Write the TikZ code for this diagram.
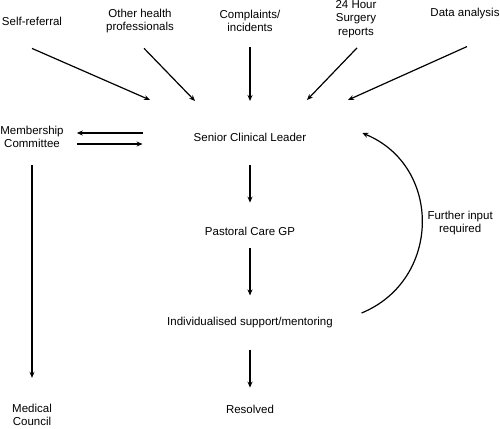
\documentclass[tikz,border=0pt]{standalone}
\usepackage{fontspec}
\setmainfont{Liberation Sans}
\usetikzlibrary{positioning, arrows.meta}

\begin{document}
\begin{tikzpicture}[
    x=1pt, y=-1pt,
    txt/.style={align=center, inner sep=0pt, font=\fontsize{11.5}{13.5}\selectfont},
    arrow/.style={-{Stealth[length=6pt, width=5pt]}, line width=1.2pt}
  ]
  \useasboundingbox (0,0) rectangle (500,428);

  % sources of concern
  \node[txt] (selfref) at (32,21) {Self-referral};
  \node[txt] (otherhp) at (140,21) {Other health\\professionals};
  \node[txt] (complaints) at (250,21) {Complaints/\\incidents};
  \node[txt] (surgery) at (356,19) {24 Hour\\Surgery\\reports};
  \node[txt] (data) at (465,14) {Data analysis};

  % main column
  \node[txt] (senior) at (250,137) {Senior Clinical Leader};
  \node[txt] (pastoral) at (250,231) {Pastoral Care GP};
  \node[txt] (support) at (250,323) {Individualised support/mentoring};
  \node[txt] (resolved) at (250,409) {Resolved};

  % left column
  \node[txt] (member) at (32,137) {Membership\\Committee};
  \node[txt] (council) at (32,415) {Medical\\Council};

  % arrow ends above the leader
  \coordinate (inA) at (150,100);
  \coordinate (inB) at (195,101);
  \coordinate (inC) at (250,101);
  \coordinate (inD) at (307,100);
  \coordinate (inE) at (348,100);

  \draw[arrow] ([yshift=-23pt]selfref.south) -- (inA);
  \draw[arrow] ([xshift=4pt, yshift=-15pt]otherhp.south) -- (inB);
  \draw[arrow] ([yshift=-15pt]complaints.south) -- (inC);
  \draw[arrow] ([xshift=1pt, yshift=-10pt]surgery.south) -- (inD);
  \draw[arrow] ([xshift=2pt, yshift=-27pt]data.south) -- (inE);

  % down the column
  \draw[arrow, shorten <=24pt, shorten >=24pt] (senior) -- (pastoral);
  \draw[arrow, shorten <=13pt, shorten >=22pt] (pastoral) -- (support);
  \draw[arrow, shorten <=21pt, shorten >=17pt] (support) -- (resolved);

  % membership committee
  \draw[arrow, shorten <=51pt, shorten >=13pt] ([yshift=4pt]senior.west) -- ([yshift=4pt]member.east);
  \draw[arrow, shorten <=13pt, shorten >=51pt] ([yshift=-7pt]member.east) -- ([yshift=-7pt]senior.west);
  \draw[arrow, shorten <=17pt, shorten >=26pt] (member) -- (council);

  % loop back
  \draw[arrow] ([xshift=28.6pt, yshift=10pt]support.east)
    .. controls +(80,-33) and +(80,33) .. ([xshift=55.8pt, yshift=4pt]senior.east)
    node[txt, pos=0.5, right=5pt] (further) {Further input\\required};

\end{tikzpicture}
\end{document}
